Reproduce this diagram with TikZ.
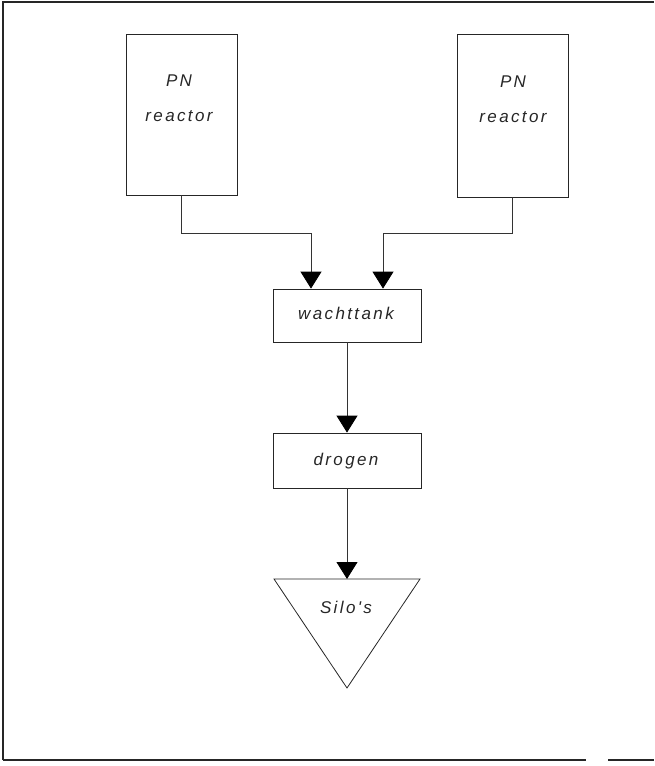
\documentclass[tikz,border=0pt]{standalone}
\usepackage{fontspec}
\newfontfamily\lblfont[LetterSpace=14]{Liberation Sans}
\usetikzlibrary{arrows.meta}
\begin{document}
\begin{tikzpicture}[x=1pt,y=1pt,
  box/.style={draw=black!85, line width=0.8pt, minimum width=#1, inner sep=0pt},
  lbl/.style={font=\lblfont\itshape\fontsize{17}{35}\selectfont, text=black!85, align=center, inner sep=0pt},
  flow/.style={draw=black!80, line width=0.8pt, -{Triangle[width=21pt,length=17pt,color=black]}},
  frame/.style={draw=black!85, line width=1.6pt}]
\useasboundingbox (0,0) rectangle (654,-766);

% outer frame: left, top and bottom rules
\draw[frame] (3,-760) -- (3,-2) -- (654,-2);
\draw[frame] (3,-760) -- (586,-760);
\draw[frame] (608,-760) -- (654,-760);

% two reactors
\node[box=111pt, minimum height=161pt] (r1) at (181.5,-114.5) {};
\node[lbl] (r1t) at (179,-98) {PN\\reactor};
\node[box=111pt, minimum height=163pt] (r2) at (512.5,-115.5) {};
\node[lbl] (r2t) at (513,-99) {PN\\reactor};

% process steps
\node[box=148pt, minimum height=53pt] (tank) at (347,-315.5) {};
\node[lbl] (tankt) at (346,-313) {wachttank};
\node[box=148pt, minimum height=55pt] (drog) at (347,-460.5) {};
\node[lbl] (drogt) at (346,-461) {drogen};

% silo triangle
\coordinate (silo) at (347,-579);
\coordinate (siloL) at (274,-579);
\coordinate (siloR) at (420,-579);
\coordinate (siloB) at (347,-688);
\draw[draw=black!85, line width=0.8pt] (siloL) -- (siloR) -- (siloB) -- cycle;
\node[lbl] (silot) at (346,-607) {Silo's};

% connectors
\draw[flow] (r1.south) -- ++(0,-38) -| ([xshift=-36pt]tank.north);
\draw[flow] (r2.south) -- ++(0,-36) -| ([xshift=36pt]tank.north);
\draw[flow] (tank.south) -- (drog.north);
\draw[flow] (drog.south) -- (silo);
\end{tikzpicture}
\end{document}
